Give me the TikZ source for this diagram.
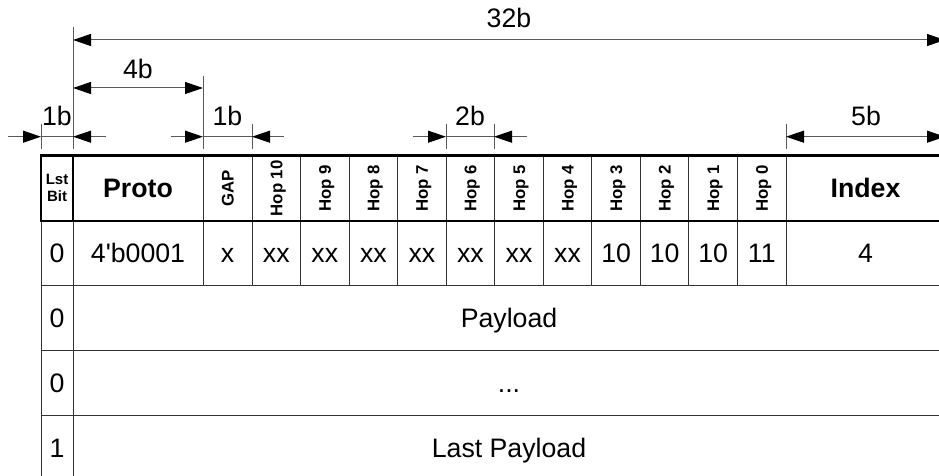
\documentclass[tikz,border=0pt]{standalone}
\usepackage{fontspec}
\setmainfont{Liberation Sans}
\usetikzlibrary{arrows.meta}
\newcommand\cellfont{\fontsize{26.7}{32}\selectfont}
\newcommand\hopfont{\fontsize{16.8}{20}\selectfont\bfseries}
\newcommand\lstfont{\fontsize{15}{17}\selectfont\bfseries}
\begin{document}
\begin{tikzpicture}[x=1pt,y=-1pt,
  box/.style={draw=black!80,line width=1pt,inner sep=0pt,outer sep=0pt},
  cell/.style={box,font=\cellfont,text height=19pt,text depth=0pt},
  headcell/.style={cell,font=\cellfont\bfseries},
  hopcell/.style={box,rotate=90,font=\hopfont,text height=12pt,text depth=0pt,
    minimum width=65.3pt,minimum height=48.55pt},
  lstcell/.style={box,font=\lstfont,align=center},
  dimline/.style={draw=black!65,line width=1pt},
  tipR/.style={dimline,-{Triangle[length=18pt,width=12pt,color=black]}},
  tipB/.style={dimline,{Triangle[length=18pt,width=12pt,color=black]}-{Triangle[length=18pt,width=12pt,color=black]}},
  extline/.style={draw=black!65,line width=1pt},
  dimlabel/.style={inner sep=0pt,font=\cellfont,text height=19pt,text depth=0pt},
  thickframe/.style={draw=black,line width=2.6pt}
]
\useasboundingbox (0,0) rectangle (939,476);
\clip (0,0) rectangle (939,476);

% ---------- header row ----------
\node[lstcell,minimum width=32pt,minimum height=65.3pt] (lstH) at (57,188.35) {Lst\\Bit};
\node[headcell,minimum width=130pt,minimum height=65.3pt] (protoH) at (138,188.35) {Proto};
\node[hopcell,minimum height=49pt] (gapH) at (227.5,188.35) {GAP};
\foreach \i in {0,...,10}{
  \pgfmathsetmacro{\cx}{252+(\i+0.5)*48.55}
  \pgfmathtruncatemacro{\h}{10-\i}
  \node[hopcell] (hopH\h) at (\cx,188.35) {Hop \h};
}
\node[headcell,minimum width=159pt,minimum height=65.3pt] (indexH) at (865.5,188.35) {Index};

% ---------- row 1 ----------
\node[cell,minimum width=32pt,minimum height=64.7pt] (lst1) at (57,253.35) {0};
\node[cell,minimum width=130pt,minimum height=64.7pt] (proto1) at (138,253.35) {4\textquotesingle b0001};
\node[cell,minimum width=49pt,minimum height=64.7pt] (gap1) at (227.5,253.35) {x};
\foreach \i/\v in {0/xx,1/xx,2/xx,3/xx,4/xx,5/xx,6/xx,7/10,8/10,9/10,10/11}{
  \pgfmathsetmacro{\cx}{252+(\i+0.5)*48.55}
  \pgfmathtruncatemacro{\h}{10-\i}
  \node[cell,minimum width=48.55pt,minimum height=64.7pt] (hop1\h) at (\cx,253.35) {\v};
}
\node[cell,minimum width=159pt,minimum height=64.7pt] (index1) at (865.5,253.35) {4};

% ---------- rows 2-4 ----------
\node[cell,minimum width=32pt,minimum height=65pt] (lst2) at (57,318.2) {0};
\node[cell,minimum width=872pt,minimum height=65pt] (data2) at (509,318.2) {Payload};
\node[cell,minimum width=32pt,minimum height=64.6pt] (lst3) at (57,383) {0};
\node[cell,minimum width=872pt,minimum height=64.6pt] (data3) at (509,383) {...};
\node[cell,minimum width=32pt,minimum height=64.7pt] (lst4) at (57,447.65) {1};
\node[cell,minimum width=872pt,minimum height=64.7pt] (data4) at (509,447.65) {Last Payload};

% thick header frame
\draw[thickframe] (lstH.north west) rectangle (indexH.south east);
\draw[thickframe] (lstH.north east) -- (lstH.south east);

% ---------- extension lines ----------
\coordinate (e73t) at (73,27);   \coordinate (e73b) at (73,149);
\coordinate (e203t) at (203,76); \coordinate (e203b) at (203,149);
\coordinate (e41t) at (41,124);  \coordinate (e41b) at (41,149);
\coordinate (e252t) at (252,124);\coordinate (e252b) at (252,149);
\coordinate (e446t) at (446,124);\coordinate (e446b) at (446,149);
\coordinate (e494t) at (494,124);\coordinate (e494b) at (494,149);
\coordinate (e786t) at (786,124);\coordinate (e786b) at (786,149);
\foreach \n in {73,203,41,252,446,494,786}{
  \draw[extline] (e\n t) -- (e\n b);
}

% ---------- dimension lines ----------
\coordinate (d32L) at (73,40);  \coordinate (d32R) at (945,40);
\draw[tipB] (d32L) -- (d32R);
\node[dimlabel] (l32) at (509,18.3) {32b};

\coordinate (d4L) at (73,88);   \coordinate (d4R) at (203,88);
\draw[tipB] (d4L) -- (d4R);
\node[dimlabel] (l4) at (138,69) {4b};

% 1b (Lst Bit)
\coordinate (a1o) at (8,136.7);   \coordinate (a1L) at (41,136.7);
\coordinate (a1R) at (73,136.7);  \coordinate (a1p) at (106,136.7);
\draw[tipR] (a1o) -- (a1L);
\draw[dimline] (a1L) -- (a1R);
\draw[tipR] (a1p) -- (a1R);
\node[dimlabel] (l1a) at (57,116) {1b};

% 1b (GAP)
\coordinate (a2o) at (171,136.7); \coordinate (a2L) at (203,136.7);
\coordinate (a2R) at (252,136.7); \coordinate (a2p) at (284,136.7);
\draw[tipR] (a2o) -- (a2L);
\draw[dimline] (a2L) -- (a2R);
\draw[tipR] (a2p) -- (a2R);
\node[dimlabel] (l1b) at (227.5,116) {1b};

% 2b
\coordinate (a3o) at (413,136.7); \coordinate (a3L) at (446,136.7);
\coordinate (a3R) at (494,136.7); \coordinate (a3p) at (527,136.7);
\draw[tipR] (a3o) -- (a3L);
\draw[dimline] (a3L) -- (a3R);
\draw[tipR] (a3p) -- (a3R);
\node[dimlabel] (l2) at (470,116) {2b};

% 5b
\coordinate (d5L) at (786,136.7); \coordinate (d5R) at (945,136.7);
\draw[tipB] (d5L) -- (d5R);
\node[dimlabel] (l5) at (866,116) {5b};
\end{tikzpicture}
\end{document}
